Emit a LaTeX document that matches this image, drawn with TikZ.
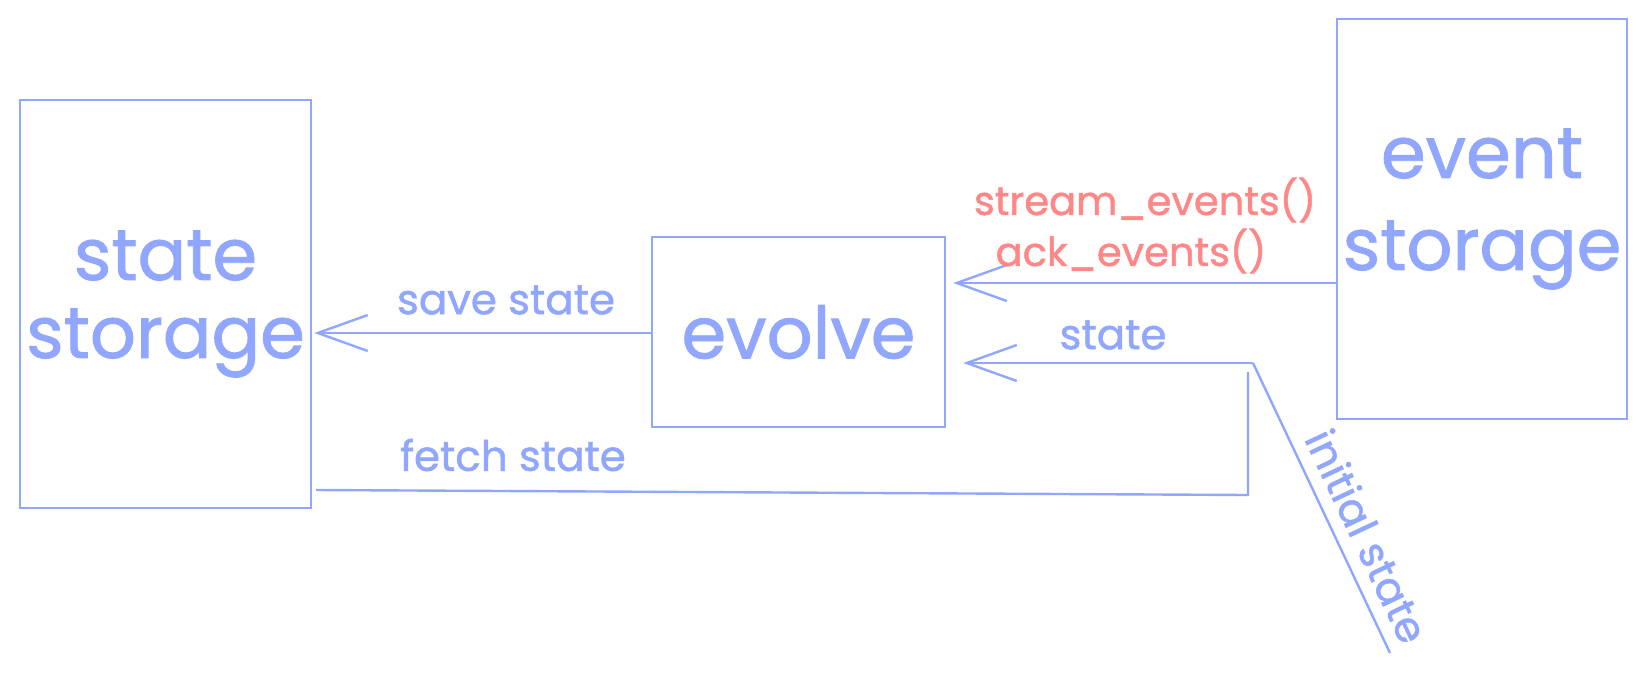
\documentclass[tikz,border=0pt]{standalone}
\usepackage{fontspec}
\setmainfont{Poppins}[FakeBold=1.2]
\usetikzlibrary{arrows.meta,positioning,calc}
\definecolor{skissblue}{HTML}{91A7FF}
\definecolor{skissred}{HTML}{FF8787}
\tikzset{
  >={Straight Barb[length=25pt,width=18pt]},
  % lådor
  store/.style={draw=skissblue,line width=1.2pt,inner sep=0pt,text=skissblue,
                font=\fontsize{36}{38}\selectfont,align=center},
  bigtxt/.style={text=skissblue,font=\fontsize{36}{38}\selectfont,align=center,inner sep=0pt},
  % pilar
  flow/.style={draw=skissblue,line width=1.2pt},
  lbl/.style={text=skissblue,font=\fontsize{21}{23}\selectfont,inner sep=1pt},
  call/.style={lbl,text=skissred,font=\fontsize{20}{22}\selectfont},
}
\begin{document}
\begin{tikzpicture}[x=0.5pt,y=-0.5pt]
\useasboundingbox (0,0) rectangle (1644,686);
  \node[store,minimum width=145.5pt,minimum height=204pt] (state) at (165.5,304) {state\\[1pt]storage};
  \node[store,minimum width=146.5pt,minimum height=95pt] (evolve) at (798.5,332) {evolve};
  \node[store,minimum width=145pt,minimum height=200pt] (events) at (1482,219) {};
  \node[bigtxt] (eventstxt) at ([yshift=5pt]events.center) {event\\[8pt]storage};
  \coordinate (split) at (1253,363);
  \coordinate (riser) at (1248,372);
  \coordinate (bend) at (1248,495);
  \coordinate (tail) at (1390,653);
  \draw[flow,->] ([yshift=-32pt]events.west) -- ([yshift=24.5pt,xshift=3.5pt]evolve.east);
  \draw[flow,->] ([yshift=-0.5pt]evolve.west) -- ([yshift=-14.5pt,xshift=1pt]state.east);
  \draw[flow,->] (split) -- ([yshift=-15.5pt,xshift=8.5pt]evolve.east);
  \draw[flow] (riser) -- (bend) -- ([yshift=-93pt,xshift=2pt]state.east);
  \draw[flow] (split) -- node[lbl,sloped,above=5pt,pos=0.64] (initlbl) {initial state} (tail);
  \node[call] (streamlbl) at (1145,200) {stream\_events()};
  \node[call] (acklbl) at (1131,251) {ack\_events()};
  \node[lbl] (statelbl) at (1113,335) {state};
  \node[lbl] (savelbl) at (506,300) {save state};
  \node[lbl] (fetchlbl) at (513,455) {fetch state};
\end{tikzpicture}
\end{document}
